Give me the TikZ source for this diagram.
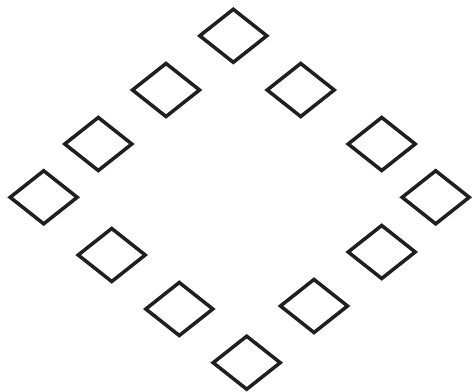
\documentclass[tikz,border=0pt]{standalone}
\usepackage{tikz}
\usetikzlibrary{shapes.geometric}

\begin{document}
\begin{tikzpicture}[
  x=0.02cm, y=-0.02cm,
  tile/.style={draw, diamond, inner sep=0pt, minimum width=1.37cm, minimum height=1.09cm, line width=2pt, color=black!88}
]
\useasboundingbox (0,0) rectangle (474,392);
\node[tile] (top) at (233.3,35.8) {};
\node[tile] (nw1) at (166,90) {};
\node[tile] (nw2) at (98.3,144) {};
\node[tile] (left) at (43.7,197.3) {};
\node[tile] (ne1) at (300.7,90) {};
\node[tile] (ne2) at (381.7,144) {};
\node[tile] (right) at (435.7,197.3) {};
\node[tile] (sw1) at (111.7,255) {};
\node[tile] (sw2) at (179.3,309) {};
\node[tile] (bottom) at (246.7,362.7) {};
\node[tile] (se2) at (314,306) {};
\node[tile] (se1) at (381.7,252) {};
\end{tikzpicture}
\end{document}
